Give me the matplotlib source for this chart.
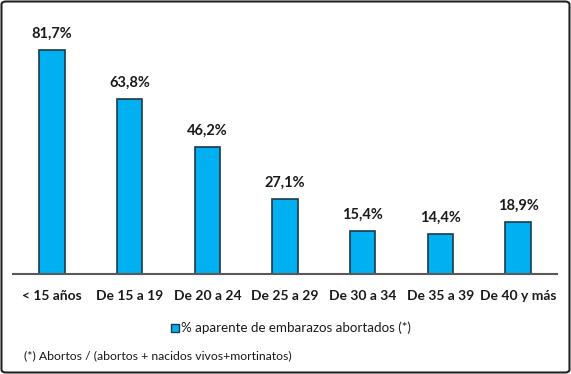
import matplotlib
matplotlib.use("Agg")
import matplotlib.pyplot as plt
from matplotlib.patches import FancyBboxPatch, Rectangle

categories = ["< 15 años", "De 15 a 19", "De 20 a 24", "De 25 a 29",
              "De 30 a 34", "De 35 a 39", "De 40 y más"]
values = [81.7, 63.8, 46.2, 27.1, 15.4, 14.4, 18.9]
labels = ["81,7%", "63,8%", "46,2%", "27,1%", "15,4%", "14,4%", "18,9%"]
legend_label = "% aparente de embarazos abortados (*)"
footnote = "(*) Abortos / (abortos + nacidos vivos+mortinatos)"

plt.rcParams['font.family'] = ['Lato', 'DejaVu Sans']

W, H = 571, 374
fig = plt.figure(figsize=(W / 100, H / 100), dpi=100)

# axes placement in pixels
ax_left, ax_right = 13.2, 556.8
ax_base = 273.5
ppu = 2.74
ymax = 90
ax_top = ax_base - ymax * ppu
ax = fig.add_axes([ax_left / W, (H - ax_base) / H, (ax_right - ax_left) / W,
                   (ax_base - ax_top) / H])

x = list(range(len(categories)))
bars = ax.bar(x, values, width=0.33, color="#00B0F0", edgecolor="#1F3A48",
              linewidth=1.2, zorder=2)
ax.set_xlim(-0.5, len(categories) - 0.5)
ax.set_ylim(0, ymax)
for xi, v, lab in zip(x, values, labels):
    ax.annotate(lab, (xi, v), xytext=(0, 6.5), textcoords="offset points",
                ha="center", va="bottom", fontsize=10.5, fontweight="bold",
                color="#1a1a1a")

for s in ["top", "left", "right"]:
    ax.spines[s].set_visible(False)
ax.spines["bottom"].set_color("#595959")
ax.spines["bottom"].set_linewidth(1.5)
ax.set_yticks([])
ax.set_xticks(x)
ax.set_xticklabels(categories, fontsize=10, fontweight="bold", color="#1a1a1a")
ax.tick_params(axis="x", length=0, pad=12)

# legend
sq_x, sq_y, sq = 170.5, 324, 8
fig.patches.append(Rectangle((sq_x / W, (H - sq_y - sq) / H), sq / W, sq / H,
                             transform=fig.transFigure, facecolor="#00B0F0",
                             edgecolor="#1F3A48", linewidth=1.0))
fig.text(181 / W, (H - 328) / H, legend_label, fontsize=9.6, color="#1a1a1a",
         ha="left", va="center")

fig.text(24 / W, (H - 356) / H, footnote, fontsize=8.8, color="#1a1a1a",
         ha="left", va="center")

# border
fig.patches.append(FancyBboxPatch((1.5 / W, 1.5 / H), (W - 3) / W, (H - 3) / H,
                                  boxstyle="round,pad=0,rounding_size=0.008",
                                  transform=fig.transFigure, facecolor="none",
                                  edgecolor="#222222", linewidth=1.5))

fig.savefig("out.png", dpi=100)
